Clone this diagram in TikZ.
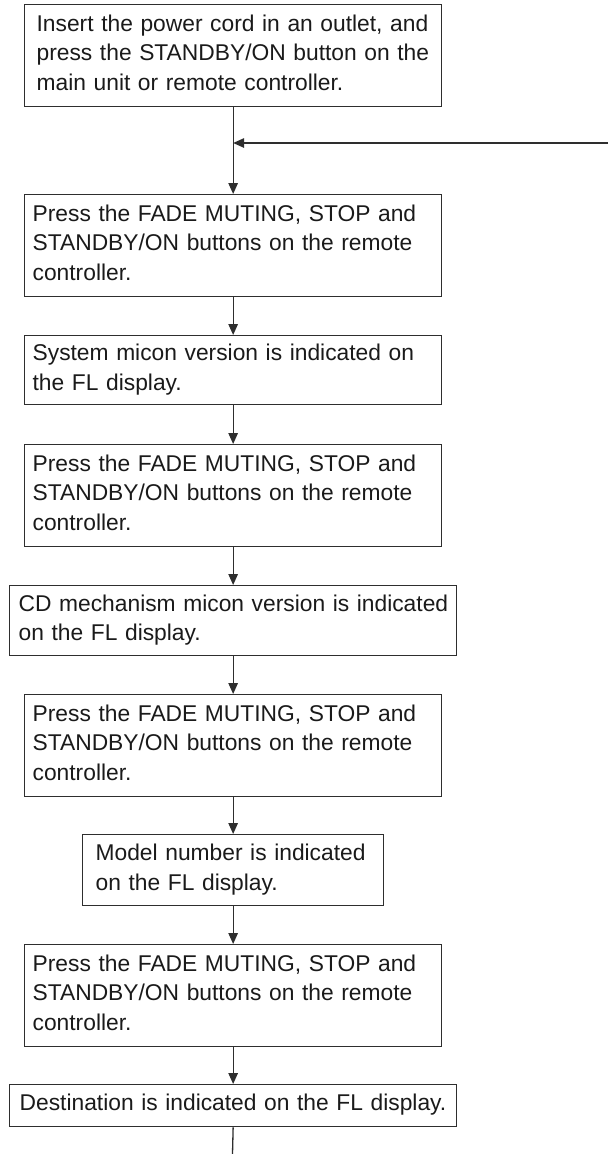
\documentclass[tikz,border=0pt]{standalone}
\usepackage{fontspec}
\setmainfont{Liberation Sans}
\usetikzlibrary{arrows.meta}
\definecolor{linec}{HTML}{2E2E2E}
\definecolor{textc}{HTML}{1A1A1A}
\newcommand{\lastd}{\rule[-6pt]{0pt}{6pt}}
\begin{document}
\begin{tikzpicture}[x=1pt,y=-1pt,
  box/.style={draw=linec, line width=1.3pt, anchor=north west, align=left,
    inner ysep=0pt, text=textc, font=\fontsize{22.8}{29.5}\selectfont},
  arr/.style={draw=linec, line width=1.3pt, -{Triangle[length=11pt,width=9.5pt]}},
  plain/.style={draw=linec, line width=1.3pt}]
\useasboundingbox (0,0) rectangle (608,1154);
\node[box, inner xsep=12pt, text width=393pt, minimum height=102pt] (b1) at (24,4)
  {\mbox{Insert the power cord in an outlet, and}\\\mbox{press the STANDBY/ON button on the}\\\mbox{main unit or remote controller.\lastd}};
\node[box, inner xsep=8pt, text width=401pt, minimum height=102pt] (b2) at (24,194)
  {\mbox{Press the FADE MUTING, STOP and}\\\mbox{STANDBY/ON buttons on the remote}\\\mbox{controller.\lastd}};
\node[box, inner xsep=8pt, text width=401pt, minimum height=69pt] (b3) at (24,335)
  {\mbox{System micon version is indicated on}\\\mbox{the FL display.\lastd}};
\node[box, inner xsep=8pt, text width=401pt, minimum height=102pt] (b4) at (24,444)
  {\mbox{Press the FADE MUTING, STOP and}\\\mbox{STANDBY/ON buttons on the remote}\\\mbox{controller.\lastd}};
\node[box, inner xsep=9pt, text width=429pt, minimum height=70pt] (b5) at (9,585)
  {\mbox{CD mechanism micon version is indicated}\\\mbox{on the FL display.\lastd}};
\node[box, inner xsep=8pt, text width=401pt, minimum height=102pt] (b6) at (24,694)
  {\mbox{Press the FADE MUTING, STOP and}\\\mbox{STANDBY/ON buttons on the remote}\\\mbox{controller.\lastd}};
\node[box, inner xsep=13pt, text width=275pt, minimum height=71pt] (b7) at (82,834)
  {\mbox{Model number is indicated}\\\mbox{on the FL display.\lastd}};
\node[box, inner xsep=8pt, text width=401pt, minimum height=102pt] (b8) at (24,944)
  {\mbox{Press the FADE MUTING, STOP and}\\\mbox{STANDBY/ON buttons on the remote}\\\mbox{controller.\lastd}};
\node[box, inner xsep=10pt, text width=427pt, minimum height=42pt] (b9) at (9,1084)
  {\mbox{Destination is indicated on the FL display.\lastd}};
\coordinate (ret) at (608,143);
\coordinate (tail) at (232.5,1154);
\draw[arr] (b1.south) -- (b2.north);
\draw[arr] (ret) -- (ret -| b1.south);
\draw[arr] (b2.south) -- (b3.north);
\draw[arr] (b3.south) -- (b4.north);
\draw[arr] (b4.south) -- (b5.north);
\draw[arr] (b5.south) -- (b6.north);
\draw[arr] (b6.south) -- (b7.north);
\draw[arr] (b7.south) -- (b8.north);
\draw[arr] (b8.south) -- (b9.north);
\draw[plain] (b9.south) -- (tail);
\end{tikzpicture}
\end{document}
